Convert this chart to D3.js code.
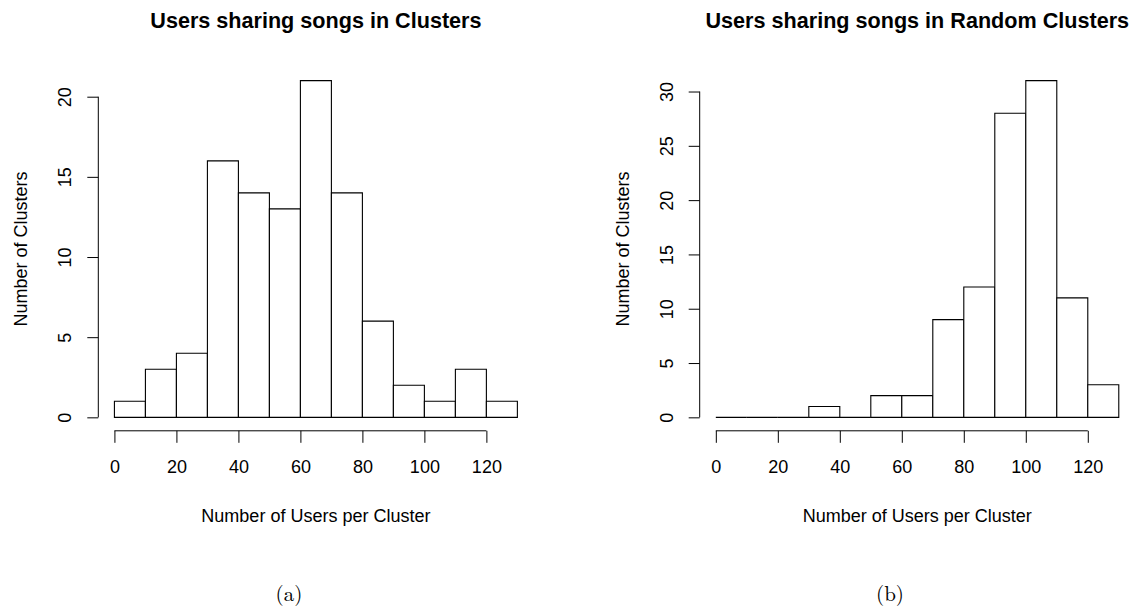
<!DOCTYPE html>
<html>
<head>
<meta charset="utf-8">
<script src="https://cdn.jsdelivr.net/npm/d3@7"></script>
<style>
  body { margin: 0; background: #fff; }
  svg text { font-family: "Liberation Sans", Arial, Helvetica, sans-serif; fill: #000; }
</style>
</head>
<body>
<div id="chart"></div>
<script>
// bin edges shared by both histograms
const binStarts = [0, 10, 20, 30, 40, 50, 60, 70, 80, 90, 100, 110, 120];
const binWidth = 10;

// counts per bin
const clusterCounts = [1, 3, 4, 16, 14, 13, 21, 14, 6, 2, 1, 3, 1];
const randomCounts = [0, 0, 0, 1, 0, 2, 2, 9, 12, 28, 31, 11, 3];

// tick labels
const xTicks = [0, 20, 40, 60, 80, 100, 120];
const yTicksA = [0, 5, 10, 15, 20];
const yTicksB = [0, 5, 10, 15, 20, 25, 30];

const titles = ["Users sharing songs in Clusters", "Users sharing songs in Random Clusters"];
const xLabel = "Number of Users per Cluster";
const yLabel = "Number of Clusters";
const captions = ["(a)", "(b)"];

const width = 1138;
const height = 609;

const svg = d3.select("#chart")
  .append("svg")
  .attr("width", width)
  .attr("height", height);

// draws one R-style histogram panel
function drawHist(left, counts, yTicks, title, caption, captionX) {
  const top = 67.2, bottom = 430.8, right = left + 435.2;
  const xMax = binStarts[binStarts.length - 1] + binWidth;
  const yMax = d3.max(counts);

  // R pads the range by 4% on each side
  const x = d3.scaleLinear()
    .domain([-0.04 * xMax, 1.04 * xMax])
    .range([left, right]);
  const y = d3.scaleLinear()
    .domain([-0.04 * yMax, 1.04 * yMax])
    .range([bottom, top]);

  const g = svg.append("g");

  // bars (as paths so zero-height bins still show as a line)
  g.selectAll("path.bar")
    .data(binStarts.map((b, i) => ({ x0: b, x1: b + binWidth, n: counts[i] })))
    .join("path")
    .attr("class", "bar")
    .attr("d", d => {
      const p = d3.path();
      p.moveTo(x(d.x0), y(0));
      p.lineTo(x(d.x0), y(d.n));
      p.lineTo(x(d.x1), y(d.n));
      p.lineTo(x(d.x1), y(0));
      p.closePath();
      return p.toString();
    })
    .attr("fill", "#fff")
    .attr("stroke", "#000")
    .attr("stroke-width", 1.1);

  // x axis
  const xAxis = g.append("g")
    .attr("transform", `translate(0,${bottom})`)
    .call(d3.axisBottom(x).tickValues(xTicks).tickSize(12).tickPadding(17).tickFormat(d3.format("d")));
  xAxis.select(".domain").remove();
  xAxis.append("line")
    .attr("x1", x(xTicks[0])).attr("x2", x(xTicks[xTicks.length - 1]))
    .attr("stroke", "#000");
  xAxis.selectAll(".tick line").attr("stroke", "#000");
  xAxis.selectAll(".tick text")
    .attr("font-size", 18)
    .attr("fill", "#000")
    .attr("font-family", "'Liberation Sans', Arial, sans-serif");

  // y axis
  const yAxis = g.append("g")
    .attr("transform", `translate(${left},0)`)
    .call(d3.axisLeft(y).tickValues(yTicks).tickSize(11).tickFormat(d3.format("d")));
  yAxis.select(".domain").remove();
  yAxis.append("line")
    .attr("y1", y(yTicks[0])).attr("y2", y(yTicks[yTicks.length - 1]))
    .attr("stroke", "#000");
  yAxis.selectAll(".tick line").attr("stroke", "#000");
  yAxis.selectAll(".tick text")
    .attr("x", null).attr("dy", null)
    .attr("transform", "translate(-27,0) rotate(-90)")
    .attr("text-anchor", "middle")
    .attr("font-size", 18)
    .attr("fill", "#000")
    .attr("font-family", "'Liberation Sans', Arial, sans-serif");

  const cx = (left + right) / 2;

  // title
  g.append("text")
    .attr("x", cx).attr("y", 28)
    .attr("text-anchor", "middle")
    .attr("font-size", 21.6)
    .attr("font-weight", "bold")
    .text(title);

  // axis labels
  g.append("text")
    .attr("x", cx).attr("y", 522)
    .attr("text-anchor", "middle")
    .attr("font-size", 18)
    .text(xLabel);

  g.append("text")
    .attr("transform", `translate(${left - 71},${(top + bottom) / 2}) rotate(-90)`)
    .attr("text-anchor", "middle")
    .attr("font-size", 18)
    .text(yLabel);

  // sub-figure caption
  g.append("text")
    .attr("x", captionX).attr("y", 601)
    .attr("text-anchor", "middle")
    .attr("font-size", 21)
    .style("font-family", "'Latin Modern Roman', 'Liberation Serif', 'DejaVu Serif', serif")
    .text(caption);
}

drawHist(98.3, clusterCounts, yTicksA, titles[0], captions[0], 289);
drawHist(699.7, randomCounts, yTicksB, titles[1], captions[1], 890);
</script>
</body>
</html>
